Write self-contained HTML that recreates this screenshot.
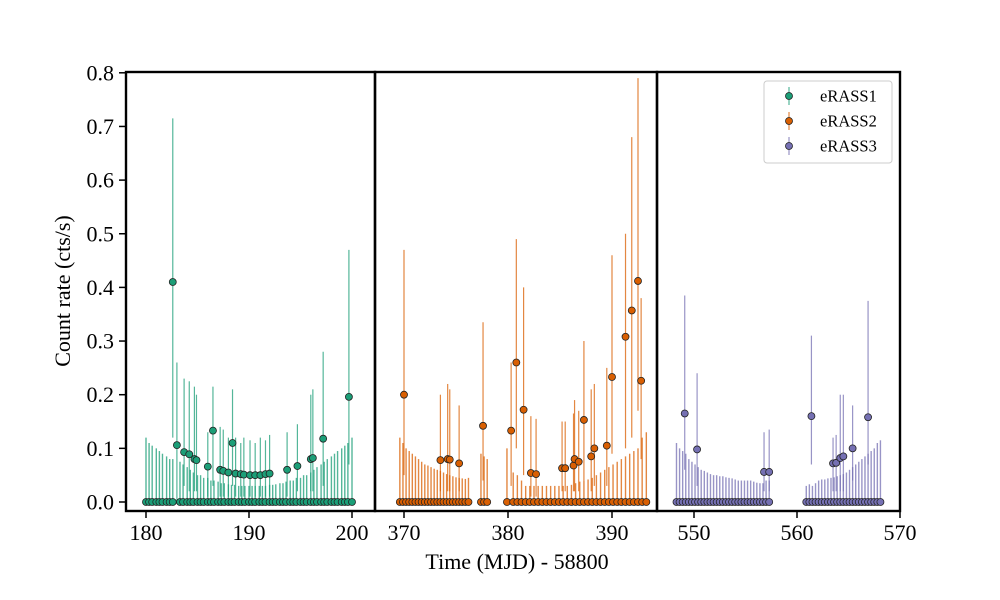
<!DOCTYPE html>
<html><head><meta charset="utf-8"><style>
body{margin:0;background:#fff}
svg{display:block;font-family:"Liberation Serif","DejaVu Serif",serif}
</style></head><body>
<svg id="c" width="1000" height="600" viewBox="0 0 1000 600" xmlns="http://www.w3.org/2000/svg"></svg>
<script>
// ---- data ----
const p1ZeroT=[180.0,180.3,180.6,181.0,181.3,181.6,182.0,182.3,182.6,183.3,183.6,184.0,184.3,184.6,185.0,185.3,185.6,186.0,186.3,186.6,187.0,187.3,187.6,188.0,188.3,188.6,189.0,189.3,189.6,190.0,190.3,190.6,191.0,191.3,191.6,192.0,192.3,192.6,193.0,193.3,193.6,194.0,194.3,194.6,195.0,195.3,195.6,196.0,196.3,196.6,197.0,197.3,197.6,198.0,198.3,198.6,199.0,199.3,199.6,200.0];
const p1ZeroErr=[0.12,0.11,0.105,0.10,0.095,0.09,0.085,0.08,0.08,0.075,0.07,0.065,0.06,0.055,0.05,0.05,0.045,0.045,0.04,0.04,0.038,0.035,0.035,0.033,0.032,0.032,0.03,0.03,0.03,0.03,0.03,0.03,0.03,0.03,0.03,0.032,0.032,0.033,0.035,0.035,0.038,0.04,0.04,0.045,0.045,0.05,0.05,0.055,0.06,0.065,0.07,0.075,0.08,0.085,0.09,0.095,0.10,0.105,0.11,0.12];
const p1T=[182.6,183.0,183.7,184.2,184.7,184.9,186.0,186.5,187.2,187.5,188.0,188.4,188.7,189.2,189.5,190.1,190.6,191.1,191.6,192.0,193.7,194.7,196.0,196.2,197.2,199.7];
const p1V=[0.41,0.106,0.093,0.089,0.080,0.078,0.066,0.133,0.060,0.058,0.055,0.11,0.053,0.052,0.051,0.050,0.050,0.050,0.052,0.053,0.060,0.067,0.080,0.082,0.118,0.196];
const p1Lo=[0.12,0,0.03,0.02,0.02,0.02,0.01,0.03,0.01,0.01,0.01,0.03,0.01,0.01,0.01,0.01,0.01,0.01,0.01,0.01,0.01,0.02,0.02,0.02,0.03,0.07];
const p1Hi=[0.715,0.26,0.23,0.225,0.215,0.2,0.13,0.215,0.14,0.135,0.12,0.21,0.12,0.11,0.12,0.115,0.11,0.12,0.115,0.125,0.13,0.145,0.2,0.21,0.28,0.47];

const p2ZeroT=[369.6,369.9,370.2,370.5,370.8,371.1,371.4,371.7,372.0,372.3,372.6,372.9,373.2,373.5,373.8,374.1,374.4,374.7,375.0,375.3,375.6,375.9,376.2,377.4,377.7,378.0,379.9,380.5,380.9,381.3,381.7,382.1,382.5,382.9,383.3,383.7,384.1,384.5,384.9,385.3,385.7,386.1,386.5,386.9,387.3,387.7,388.1,388.5,388.9,389.3,389.7,390.1,390.5,390.9,391.3,391.7,392.1,392.5,392.9,393.3];
const p2ZeroErr=[0.12,0.11,0.1,0.095,0.09,0.085,0.08,0.075,0.07,0.068,0.065,0.062,0.06,0.058,0.055,0.052,0.05,0.048,0.046,0.045,0.044,0.043,0.045,0.09,0.085,0.08,0.1,0.055,0.05,0.04,0.03,0.03,0.03,0.03,0.03,0.03,0.03,0.03,0.03,0.03,0.03,0.032,0.035,0.038,0.04,0.042,0.045,0.05,0.055,0.06,0.065,0.07,0.075,0.08,0.085,0.09,0.095,0.1,0.12,0.13];
const p2T=[370.0,373.5,374.2,374.4,375.3,377.6,380.3,380.8,381.5,382.2,382.7,385.2,385.5,386.3,386.4,386.8,387.3,388.0,388.3,389.5,390.0,391.3,391.9,392.5,392.8];
const p2V=[0.20,0.078,0.08,0.079,0.072,0.142,0.133,0.26,0.172,0.054,0.052,0.063,0.063,0.068,0.08,0.075,0.153,0.085,0.10,0.105,0.233,0.308,0.357,0.412,0.226];
const p2Lo=[0.05,0.02,0.02,0.02,0.02,0.04,0.03,0.1,0.05,0.01,0.01,0.02,0.02,0.02,0.02,0.02,0.04,0.02,0.03,0.03,0.09,0.1,0.12,0.17,0.08];
const p2Hi=[0.47,0.2,0.22,0.21,0.18,0.335,0.26,0.49,0.4,0.16,0.155,0.15,0.15,0.165,0.19,0.17,0.3,0.21,0.22,0.25,0.46,0.5,0.68,0.79,0.38];

const p3ZeroT=[548.3,548.6,548.9,549.2,549.5,549.8,550.1,550.4,550.7,551.0,551.3,551.6,551.9,552.2,552.5,552.8,553.1,553.4,553.7,554.0,554.3,554.6,554.9,555.2,555.5,555.8,556.1,556.4,556.7,557.0,557.3,560.9,561.2,561.5,561.8,562.1,562.4,562.7,563.0,563.3,563.6,563.9,564.2,564.5,564.8,565.1,565.4,565.7,566.0,566.3,566.6,566.9,567.2,567.5,567.8,568.1];
const p3ZeroErr=[0.11,0.1,0.095,0.09,0.08,0.075,0.07,0.065,0.06,0.058,0.055,0.052,0.05,0.05,0.048,0.048,0.046,0.045,0.044,0.042,0.04,0.04,0.04,0.04,0.04,0.038,0.036,0.035,0.035,0.04,0.04,0.03,0.033,0.03,0.035,0.04,0.042,0.042,0.044,0.045,0.046,0.048,0.05,0.052,0.055,0.06,0.065,0.07,0.075,0.08,0.085,0.09,0.095,0.1,0.11,0.115];
const p3T=[549.1,550.3,556.8,557.3,561.4,563.5,563.8,564.2,564.5,565.4,566.9];
const p3V=[0.165,0.098,0.056,0.056,0.16,0.072,0.073,0.082,0.085,0.10,0.158];
const p3Lo=[0.06,0.03,0.02,0.02,0.07,0.02,0.02,0.02,0.02,0.04,0.07];
const p3Hi=[0.385,0.24,0.13,0.135,0.31,0.12,0.125,0.2,0.2,0.18,0.375];

const yTicks=[0.0,0.1,0.2,0.3,0.4,0.5,0.6,0.7,0.8];
const p1Ticks=[180,190,200], p2Ticks=[370,380,390], p3Ticks=[550,560,570];
const legendLabels=["eRASS1","eRASS2","eRASS3"];

// ---- drawing ----
const NS="http://www.w3.org/2000/svg";
const svg=document.getElementById('c');
function mk(tag,attrs,parent){const e=document.createElementNS(NS,tag);for(const k in attrs)e.setAttribute(k,attrs[k]);(parent||svg).appendChild(e);return e;}
const TOP=72,BOT=511;
const y=v=>502-v*536.5;
const panels=[
 {x0:126,x1:375,t0:180,px0:146,s:10.3,color:"#1b9e77",zt:p1ZeroT,ze:p1ZeroErr,t:p1T,v:p1V,lo:p1Lo,hi:p1Hi,ticks:p1Ticks,name:"eRASS1"},
 {x0:375,x1:657,t0:370,px0:404,s:10.4,color:"#d95f02",zt:p2ZeroT,ze:p2ZeroErr,t:p2T,v:p2V,lo:p2Lo,hi:p2Hi,ticks:p2Ticks,name:"eRASS2"},
 {x0:657,x1:900,t0:550,px0:694,s:10.3,color:"#7570b3",zt:p3ZeroT,ze:p3ZeroErr,t:p3T,v:p3V,lo:p3Lo,hi:p3Hi,ticks:p3Ticks,name:"eRASS3"}
];
panels.forEach((p,pi)=>{
  const x=t=>p.px0+(t-p.t0)*p.s;
  const g=mk('g',{});
  
  
  for(let i=0;i<p.zt.length;i++){
    const l=mk('line',{x1:x(p.zt[i]),x2:x(p.zt[i]),y1:y(0),y2:y(p.ze[i]),stroke:p.color,'stroke-opacity':0.75,'stroke-width':1.4},g);
    
    
  }
  for(let i=0;i<p.t.length;i++){
    const l=mk('line',{x1:x(p.t[i]),x2:x(p.t[i]),y1:y(p.lo[i]),y2:y(p.hi[i]),stroke:p.color,'stroke-opacity':0.75,'stroke-width':1.2},g);
    
    
  }
  for(let i=0;i<p.zt.length;i++){
    const c=mk('circle',{cx:x(p.zt[i]),cy:y(0),r:3.5,fill:p.color,stroke:'#222','stroke-width':0.8},g);
    
    
  }
  for(let i=0;i<p.t.length;i++){
    const c=mk('circle',{cx:x(p.t[i]),cy:y(p.v[i]),r:3.5,fill:p.color,stroke:'#222','stroke-width':0.8},g);
    
    
  }
  const fr=mk('rect',{x:p.x0,y:TOP,width:p.x1-p.x0,height:BOT-TOP,fill:'none',stroke:'#000','stroke-width':2.4});
  
  
  p.ticks.forEach(tv=>{
    const tx=x(tv);
    const tk=mk('line',{x1:tx,x2:tx,y1:BOT,y2:BOT+7,stroke:'#000','stroke-width':1.5});
    
    
    const tl=mk('text',{x:tx,y:BOT+29,'text-anchor':'middle','font-size':22});
    tl.textContent=tv;
    
    
  });
});
yTicks.forEach(v=>{
  const tk=mk('line',{x1:119,x2:126,y1:y(v),y2:y(v),stroke:'#000','stroke-width':1.5});
  
  
  const tl=mk('text',{x:114,y:y(v)+7.5,'text-anchor':'end','font-size':22});
  tl.textContent=v.toFixed(1);
  
  
});
const xt=mk('text',{x:517,y:569,'text-anchor':'middle','font-size':22});
xt.textContent='Time (MJD) - 58800';


const yt=mk('text',{x:0,y:0,'text-anchor':'middle','font-size':22,transform:'translate(70,291) rotate(-90)'});
yt.textContent='Count rate (cts/s)';


// legend
const lg=mk('g',{});


const lb=mk('rect',{x:764,y:81,width:128,height:82,rx:3,fill:'#fff','fill-opacity':0.8,stroke:'#ccc','stroke-width':1},lg);


legendLabels.forEach((lab,i)=>{
  const cy=96+i*25;
  const e=mk('g',{},lg);
  
  
  mk('line',{x1:789,x2:789,y1:cy-9,y2:cy+9,stroke:panels[i].color,'stroke-opacity':0.75,'stroke-width':1.2},e);
  mk('circle',{cx:789,cy:cy,r:3.5,fill:panels[i].color,stroke:'#222','stroke-width':0.8},e);
  const t=mk('text',{x:820,y:cy+5.5,'font-size':16.5},e);
  t.textContent=lab;
});
</script>
</body></html>
